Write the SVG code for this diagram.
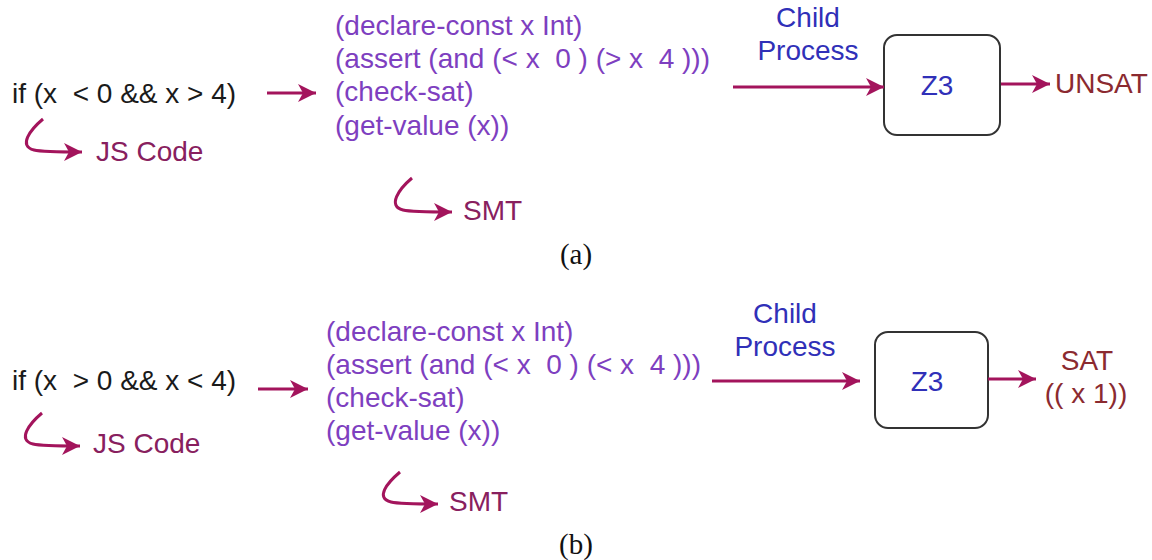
<svg xmlns="http://www.w3.org/2000/svg" width="1152" height="560" viewBox="0 0 1152 560">
<defs>
<marker id="ah" markerUnits="userSpaceOnUse" markerWidth="22" markerHeight="22" refX="18" refY="9" orient="auto">
<path d="M0,0 L18,9 L0,18 L5,9 Z" fill="#A3145C"/>
</marker>
<style>
.t{font-family:"Liberation Sans",Arial,sans-serif;font-size:28px}
.code{fill:#1a1a1a}
.smt{fill:#7E3FC0}
.lbl{fill:#88205E}
.blue{fill:#3030B8}
.res{fill:#8B2A30}
.cap{font-family:"Liberation Serif","DejaVu Serif",serif;font-size:29px;fill:#111}
.ar{fill:none;stroke:#A3145C;stroke-width:3;marker-end:url(#ah)}
.box{fill:#fff;stroke:#333;stroke-width:2}
</style>
</defs>
<rect width="1152" height="560" fill="#fff"/>

<!-- Panel (a) -->
<g id="js-a">
<text class="t code" x="12" y="103" xml:space="preserve">if (x  &lt; 0 &amp;&amp; x &gt; 4)</text>
</g>
<g id="jslabel-a">
<text class="t lbl" x="96" y="161">JS Code</text>
</g>
<g id="smt-a">
<text class="t smt" x="335" y="35" xml:space="preserve">(declare-const x Int)</text>
<text class="t smt" x="335" y="68" xml:space="preserve">(assert (and (&lt; x  0 ) (&gt; x  4 )))</text>
<text class="t smt" x="335" y="101" xml:space="preserve">(check-sat)</text>
<text class="t smt" x="335" y="135" xml:space="preserve">(get-value (x))</text>
</g>
<g id="smtlabel-a">
<text class="t lbl" x="463" y="220">SMT</text>
</g>
<g id="child-a">
<text class="t blue" x="808" y="27" text-anchor="middle">Child</text>
<text class="t blue" x="808" y="60" text-anchor="middle">Process</text>
</g>
<g id="z3-a">
<rect class="box" x="884" y="35" width="116" height="100" rx="13"/>
<text class="t blue" x="937" y="95" text-anchor="middle">Z3</text>
</g>
<g id="unsat-a">
<text class="t res" x="1055" y="93">UNSAT</text>
</g>
<text class="cap" x="576" y="264" text-anchor="middle">(a)</text>

<!-- Panel (b) -->
<g id="js-b">
<text class="t code" x="12" y="390" xml:space="preserve">if (x  &gt; 0 &amp;&amp; x &lt; 4)</text>
</g>
<g id="jslabel-b">
<text class="t lbl" x="93" y="453">JS Code</text>
</g>
<g id="smt-b">
<text class="t smt" x="326" y="341" xml:space="preserve">(declare-const x Int)</text>
<text class="t smt" x="326" y="374" xml:space="preserve">(assert (and (&lt; x  0 ) (&lt; x  4 )))</text>
<text class="t smt" x="326" y="407" xml:space="preserve">(check-sat)</text>
<text class="t smt" x="326" y="440" xml:space="preserve">(get-value (x))</text>
</g>
<g id="smtlabel-b">
<text class="t lbl" x="449" y="511">SMT</text>
</g>
<g id="child-b">
<text class="t blue" x="785" y="323" text-anchor="middle">Child</text>
<text class="t blue" x="785" y="356" text-anchor="middle">Process</text>
</g>
<g id="z3-b">
<rect class="box" x="875" y="332" width="113" height="96" rx="13"/>
<text class="t blue" x="927" y="391" text-anchor="middle">Z3</text>
</g>
<g id="sat-b">
<text class="t res" x="1087" y="370" text-anchor="middle">SAT</text>
<text class="t res" x="1086" y="403" text-anchor="middle" xml:space="preserve">(( x 1))</text>
</g>
<text class="cap" x="576" y="554" text-anchor="middle">(b)</text>

<g id="connectors">
<path class="ar" d="M267,93 L316,93"/>
<path class="ar" d="M43,119 C30,130 18,146 34,150 C42,152 55,152 82,152"/>
<path class="ar" d="M412,178 C399,189 387,206 403,210 C411,212 424,212 452,212"/>
<path class="ar" d="M733,87 L884,87"/>
<path class="ar" d="M1001,84 L1050,84"/>

<path class="ar" d="M258,389 L308,389"/>
<path class="ar" d="M42,413 C29,424 17,440 33,444 C41,446 54,446 80,446"/>
<path class="ar" d="M400,472 C387,483 375,498 391,502 C399,504 412,504 438,504"/>
<path class="ar" d="M712,381 L860,381"/>
<path class="ar" d="M988,379 L1036,379"/>
</g>
</svg>
